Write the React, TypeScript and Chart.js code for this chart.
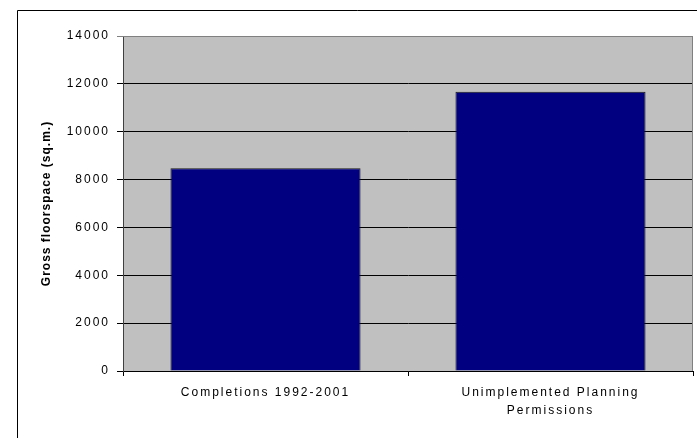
import React, { useEffect, useRef } from 'react';
import { Chart, registerables } from 'chart.js';

Chart.register(...registerables);

const categories: string[][] = [['Completions 1992-2001'], ['Unimplemented Planning', 'Permissions']];
const values: number[] = [8470, 11670];
const yMin = 0;
const yMax = 14000;
const yStep = 2000;
const yTitle = 'Gross floorspace (sq.m.)';

const FONT = "'Liberation Sans', Arial, sans-serif";

function patchSpacing(scale: any, labelSp: string, titleSp: string) {
  if (scale.__spPatched) return;
  scale.__spPatched = true;
  const dl = scale.drawLabels.bind(scale);
  scale.drawLabels = (area: any) => {
    const ctx = scale.ctx as any;
    const prev = ctx.letterSpacing;
    ctx.letterSpacing = labelSp;
    dl(area);
    ctx.letterSpacing = prev || '0px';
  };
  const dt = scale.drawTitle.bind(scale);
  scale.drawTitle = (area: any) => {
    const ctx = scale.ctx as any;
    const prev = ctx.letterSpacing;
    ctx.letterSpacing = titleSp;
    dt(area);
    ctx.letterSpacing = prev || '0px';
  };
}

const framePlugin = {
  id: 'frame',
  beforeDraw(chart: any) {
    const { ctx, chartArea, width, height } = chart;
    ctx.save();
    ctx.fillStyle = '#ffffff';
    ctx.fillRect(0, 0, width, height);
    ctx.strokeStyle = '#000000';
    ctx.lineWidth = 1;
    ctx.beginPath();
    ctx.moveTo(17.5, height + 2);
    ctx.lineTo(17.5, 10.5);
    ctx.lineTo(width + 2, 10.5);
    ctx.stroke();
    ctx.fillStyle = '#c0c0c0';
    ctx.fillRect(chartArea.left, chartArea.top, chartArea.right - chartArea.left, chartArea.bottom - chartArea.top);
    ctx.restore();
  },
  beforeDatasetsDraw(chart: any) {
    const { ctx, chartArea } = chart;
    ctx.save();
    ctx.strokeStyle = '#808080';
    ctx.lineWidth = 1;
    ctx.beginPath();
    const t = Math.round(chartArea.top) + 0.5;
    const r = Math.round(chartArea.right) - 0.5;
    ctx.moveTo(chartArea.left, t);
    ctx.lineTo(r, t);
    ctx.lineTo(r, chartArea.bottom);
    ctx.stroke();
    ctx.restore();
  },
};

export default function App() {
  const ref = useRef<HTMLCanvasElement | null>(null);

  useEffect(() => {
    if (!ref.current) return;
    const chart = new Chart(ref.current, {
      type: 'bar',
      data: {
        labels: categories,
        datasets: [
          {
            data: values,
            backgroundColor: '#000080',
            borderColor: '#1a1a1a',
            borderWidth: 1,
            barPercentage: 0.667,
            categoryPercentage: 1,
          },
        ],
      },
      options: {
        responsive: false,
        animation: false,
        devicePixelRatio: 1,
        layout: { padding: { top: 36, right: 4, left: 0, bottom: 0 } },
        plugins: {
          legend: { display: false },
          tooltip: { enabled: false },
        },
        scales: {
          x: {
            offset: true,
            grid: {
              display: true,
              offset: true,
              drawOnChartArea: false,
              drawTicks: true,
              tickLength: 5,
              color: '#000000',
            },
            border: { display: true, color: '#000000' },
            ticks: {
              color: '#000000',
              font: { family: FONT, size: 12, lineHeight: 1.5 },
              padding: 8,
              maxRotation: 0,
              autoSkip: false,
            },
            afterFit(scale: any) {
              scale.height = 67;
              patchSpacing(scale, '2px', '0px');
            },
          },
          y: {
            min: yMin,
            max: yMax,
            grid: {
              color: (c: any) => (c.tick && c.tick.value === yMax ? '#808080' : '#000000'),
              tickLength: 6,
              drawTicks: true,
            },
            border: { display: true, color: '#404040' },
            ticks: {
              stepSize: yStep,
              color: '#000000',
              font: { family: FONT, size: 12 },
              padding: 7,
              callback: (v: any) => String(v),
            },
            title: {
              display: true,
              text: yTitle,
              color: '#000000',
              font: { family: FONT, size: 12, weight: 'bold', lineHeight: 1.2 },
              padding: { top: 39, bottom: 0 },
            },
            afterFit(scale: any) {
              scale.width = 123;
              patchSpacing(scale, '2px', '1px');
            },
          },
        },
      },
      plugins: [framePlugin],
    } as any);
    return () => chart.destroy();
  }, []);

  return (
    <div style={{ position: 'fixed', left: 0, top: 0, width: 697, height: 438, background: '#fff' }}>
      <canvas ref={ref} width={697} height={438} style={{ display: 'block', width: 697, height: 438 }} />
    </div>
  );
}
